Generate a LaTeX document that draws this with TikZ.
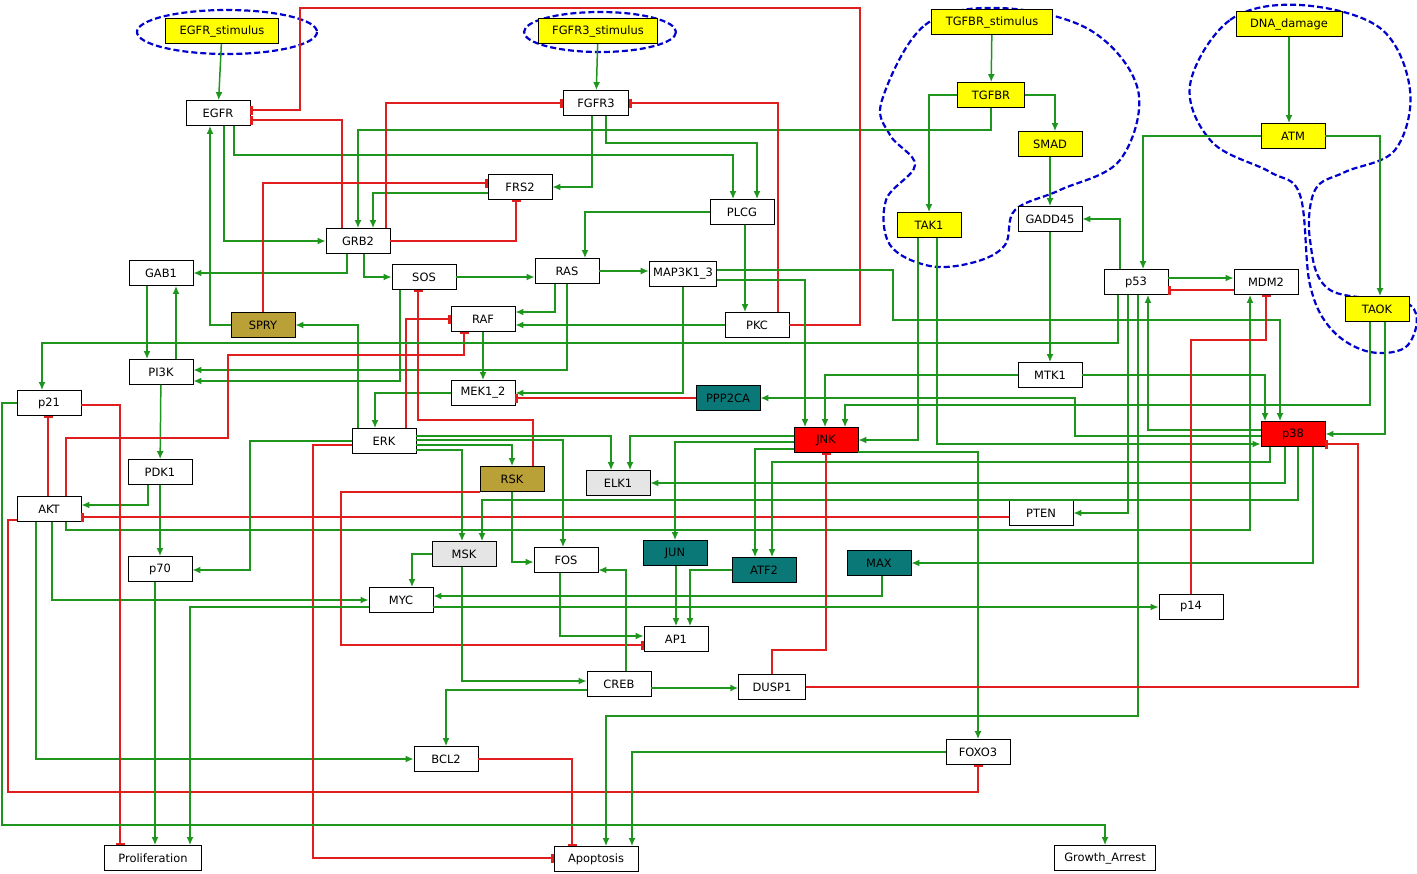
\documentclass[tikz,border=0pt]{standalone}
\usepackage{fontspec}
\setmainfont{DejaVu Sans}
\usetikzlibrary{arrows.meta}
\definecolor{actgreen}{RGB}{30,150,30}
\definecolor{inhred}{RGB}{225,30,30}
\definecolor{olivebox}{RGB}{185,160,55}
\definecolor{tealbox}{RGB}{10,120,118}
\definecolor{stim}{RGB}{255,255,0}
\tikzset{
  box/.style={draw, thick, fill=white, minimum width=64bp, minimum height=25bp, inner xsep=14bp, font=\fontsize{11.5}{13}\selectfont},
  ybox/.style={box, fill=stim},
  obox/.style={box, fill=olivebox},
  tbox/.style={box, fill=tealbox},
  rbox/.style={box, fill=red},
  gbox/.style={box, fill=gray!20},
  act/.style={draw=actgreen, line width=1.5pt, -{Latex[length=8bp,width=7bp]}},
  inh/.style={draw=inhred, line width=1.5pt, -{Bar[width=9bp,line width=2.5pt]}},
  blob/.style={draw=blue!80!black, line width=2.2pt, dash pattern=on 6bp off 3bp}
}
\begin{document}
\begin{tikzpicture}[x=1bp, y=-1bp]
    \useasboundingbox (0,0) rectangle (1417,873);

    % dashed groups
    \draw[blob] (227,32) ellipse (90 and 22);
    \draw[blob] (600,32) ellipse (76 and 20);
    \draw[blob] plot[smooth cycle, tension=0.6] coordinates {(882,100) (925,25) (1000,8) (1090,30) (1138,90) (1120,160) (1060,190) (1015,210) (1005,245) (975,262) (930,266) (890,245) (886,200) (915,165) (890,135)};
    \draw[blob] plot[smooth cycle, tension=0.6] coordinates {(1190,85) (1230,20) (1300,5) (1380,28) (1410,90) (1395,150) (1345,172) (1315,190) (1310,240) (1330,290) (1410,305) (1408,345) (1370,352) (1332,330) (1310,285) (1300,195) (1270,172) (1212,142)};

    % nodes
    \node[ybox] (EGFRs) at (222,31) {EGFR\_stimulus};
    \node[ybox] (FGFR3s) at (598,31) {FGFR3\_stimulus};
    \node[ybox] (TGFBRs) at (992,22) {TGFBR\_stimulus};
    \node[ybox] (TGFBR) at (991,95) {TGFBR};
    \node[ybox] (SMAD) at (1050,144) {SMAD};
    \node[ybox] (TAK1) at (929,225) {TAK1};
    \node[ybox] (DNA) at (1289,24) {DNA\_damage};
    \node[ybox] (ATM) at (1293,136) {ATM};
    \node[ybox] (TAOK) at (1377,309) {TAOK};
    \node[box] (EGFR) at (218,113) {EGFR};
    \node[box] (FGFR3) at (596,103) {FGFR3};
    \node[box] (FRS2) at (520,187) {FRS2};
    \node[box] (PLCG) at (742,212) {PLCG};
    \node[box] (GRB2) at (358,241) {GRB2};
    \node[box] (GAB1) at (161,273) {GAB1};
    \node[box] (SOS) at (424,277) {SOS};
    \node[box] (RAS) at (567,271) {RAS};
    \node[box, inner xsep=4bp] (MAP3K) at (683,274) {MAP3K1\_3};
    \node[obox] (SPRY) at (263,325) {SPRY};
    \node[box] (RAF) at (483,319) {RAF};
    \node[box] (PKC) at (757,325) {PKC};
    \node[box] (PI3K) at (161,372) {PI3K};
    \node[box] (p21) at (49,403) {p21};
    \node[box, inner xsep=6bp] (MEK) at (483,393) {MEK1\_2};
    \node[tbox, inner xsep=6bp] (PPP2CA) at (728,398) {PPP2CA};
    \node[box] (ERK) at (384,441) {ERK};
    \node[rbox] (JNK) at (826,440) {JNK};
    \node[obox] (RSK) at (512,479) {RSK};
    \node[gbox] (ELK1) at (618,483) {ELK1};
    \node[box] (PDK1) at (160,472) {PDK1};
    \node[box] (AKT) at (49,509) {AKT};
    \node[box] (PTEN) at (1041,513) {PTEN};
    \node[gbox] (MSK) at (464,554) {MSK};
    \node[box] (FOS) at (566,560) {FOS};
    \node[tbox] (JUN) at (675,553) {JUN};
    \node[tbox] (ATF2) at (764,570) {ATF2};
    \node[tbox] (MAX) at (879,563) {MAX};
    \node[box] (p70) at (160,569) {p70};
    \node[box] (MYC) at (401,600) {MYC};
    \node[box] (p14) at (1191,607) {p14};
    \node[box] (AP1) at (676,639) {AP1};
    \node[box] (CREB) at (619,684) {CREB};
    \node[box] (DUSP1) at (772,687) {DUSP1};
    \node[box] (BCL2) at (446,759) {BCL2};
    \node[box, inner xsep=6bp] (FOXO3) at (978,752) {FOXO3};
    \node[box] (Prolif) at (153,858) {Proliferation};
    \node[box] (Apoptosis) at (596,859) {Apoptosis};
    \node[box, inner xsep=10bp] (Growth) at (1105,858) {Growth\_Arrest};
    \node[box] (p53) at (1136,282) {p53};
    \node[box] (MDM2) at (1266,282) {MDM2};
    \node[box] (MTK1) at (1050,375) {MTK1};
    \node[box, inner xsep=6bp] (GADD45) at (1050,219) {GADD45};
    \node[rbox] (p38) at (1293,434) {p38};

    % receptors
    \draw[act] (EGFRs) -- (EGFR);
    \draw[act] (FGFR3s) -- (FGFR3);
    \draw[act] (TGFBRs) -- (TGFBR);
    \draw[act] (TGFBR.east) -| (SMAD.north -| 1055,0);
    \draw[act] (TGFBR.west) -| (TAK1.north -| 929,0);
    \draw[act] (TGFBR.south) |- (358,130) -- (GRB2.north -| 358,0);
    \draw[act] (SMAD) -- (GADD45);
    \draw[act] (DNA) -- (ATM.north -| DNA.south);
    \draw[act] (ATM.west) -| (p53.north -| 1143,0);
    \draw[act] (ATM.east) -| (TAOK.north -| 1380,0);
    \draw[act] (EGFR.south -| 224,0) |- (GRB2.west);
    \draw[act] (EGFR.south -| 234,0) |- (733,155) -- (PLCG.north -| 733,0);
    \draw[act] (FGFR3.south -| 592,0) |- (FRS2.east);
    \draw[act] (FGFR3.south -| 606,0) |- (757,143) -- (PLCG.north -| 757,0);
    \draw[act] (FRS2.west |- 0,193) -| (GRB2.north -| 373,0);
    \draw[inh] (GRB2.east) -| (FRS2.south -| 516,0);
    \draw[inh] (GRB2.north -| 386,0) |- (FGFR3.west);
    \draw[inh] (GRB2.north -| 342,0) |- (EGFR.east |- 0,120);
    \draw[inh] (PKC.north -| 778,0) |- (FGFR3.east);
    \draw[inh] (PKC.east) -| (860,8) -| (300,110) -- (EGFR.east |- 0,110);

    % MAPK cascade
    \draw[act] (GRB2.south -| 347,0) |- (GAB1.east);
    \draw[act] (GRB2.south -| 364,0) |- (SOS.west);
    \draw[act] (SOS.east) -- (RAS.west |- SOS.east);
    \draw[act] (PLCG.west) -| (RAS.north -| 585,0);
    \draw[act] (PLCG.south -| 745,0) -- (PKC.north -| 745,0);
    \draw[act] (RAS.south -| 555,0) |- (RAF.east |- 0,312);
    \draw[act] (RAS.east) -- (MAP3K.west |- RAS.east);
    \draw[act] (RAS.south -| 567,0) |- (PI3K.east |- 0,370);
    \draw[act] (SOS.south -| 400,0) |- (PI3K.east |- 0,381);
    \draw[act] (RAF) -- (MEK);
    \draw[act] (MAP3K.south -| 683,0) |- (MEK.east);
    \draw[act] (MAP3K.east |- 0,280) -| (JNK.north -| 805,0);
    \draw[act] (MAP3K.east |- 0,270) -| (893,320) -| (p38.north -| 1280,0);
    \draw[act] (PKC.west) -- (RAF.east |- PKC.west);
    \draw[act] (MEK.west) -| (ERK.north -| 375,0);
    \draw[act] (ERK.north -| 358,0) |- (SPRY.east);
    \draw[inh] (SPRY.north) |- (FRS2.west |- 0,183);
    \draw[act] (SPRY.west) -| (EGFR.south -| 210,0);
    \draw[inh] (ERK.north -| 406,0) |- (RAF.west);
    \draw[inh] (RSK.north -| 533,0) |- (418,420) -- (SOS.south -| 418,0);
    \draw[inh] (PPP2CA.west) -- (MEK.east |- PPP2CA.west);

    % PI3K / AKT
    \draw[act] (PI3K.north -| 176,0) -- (GAB1.south -| 176,0);
    \draw[act] (GAB1.south -| 147,0) -- (PI3K.north -| 147,0);
    \draw[act] (PI3K) -- (PDK1);
    \draw[act] (PDK1.south -| 148,0) |- (AKT.east |- 0,505);
    \draw[act] (PDK1) -- (p70);
    \draw[inh] (PTEN.west |- 0,517) -- (AKT.east |- 0,517);
    \draw[act] (AKT.south -| 52,0) |- (MYC.west);
    \draw[act] (AKT.south -| 36,0) |- (BCL2.west);
    \draw[inh] (AKT.north -| 48,0) -- (p21.south -| 48,0);
    \draw[inh] (AKT.west |- 0,520) -| (8,792) -| (FOXO3.south);
    \draw[inh] (AKT.north -| 66,0) |- (228,438) |- (464,355) -- (RAF.south -| 464,0);
    \draw[act] (AKT.south -| 66,0) |- (1250,530) -- (MDM2.south -| 1250,0);

    % ERK targets
    \draw[act] (ERK.west) -| (250,570) -- (p70.east |- 0,570);
    \draw[act] (ERK.east |- 0,445) -| (RSK.north);
    \draw[act] (ERK.east |- 0,450) -| (MSK.north -| 462,0);
    \draw[act] (ERK.east |- 0,440) -| (FOS.north -| 563,0);
    \draw[act] (ERK.east |- 0,436) -| (ELK1.north -| 611,0);
    \draw[inh] (ERK.west |- 0,445) -| (313,858) -- (Apoptosis.west |- 0,858);
    \draw[inh] (RSK.west |- 0,492) -| (341,645) -- (AP1.west |- 0,645);
    \draw[act] (RSK.south) |- (FOS.west |- 0,562);

    % JNK / p38
    \draw[act] (JNK.west |- 0,436) -| (ELK1.north -| 630,0);
    \draw[act] (JNK.west |- 0,442) -| (JUN.north);
    \draw[act] (JNK.west |- 0,449) -| (ATF2.north -| 755,0);
    \draw[act] (p38.south -| 1270,0) |- (772,462) -- (ATF2.north -| 772,0);
    \draw[act] (JNK.east |- 0,452) -| (FOXO3.north);
    \draw[act] (TAK1.south -| 918,0) |- (JNK.east |- 0,440);
    \draw[act] (TAK1.south -| 937,0) |- (p38.west |- 0,444);
    \draw[act] (MTK1.west) -| (JNK.north -| 825,0);
    \draw[act] (MTK1.east) -| (p38.north -| 1265,0);
    \draw[act] (GADD45) -- (MTK1);
    \draw[act] (TAOK.south -| 1385,0) |- (p38.east);
    \draw[act] (TAOK.south -| 1370,0) |- (845,405) -- (JNK.north -| 845,0);
    \draw[act] (p38.west |- 0,436) -| (1075,398) -- (PPP2CA.east |- 0,398);
    \draw[act] (p38.south -| 1285,0) |- (ELK1.east);
    \draw[act] (p38.south -| 1298,0) |- (482,500) -- (MSK.north -| 482,0);
    \draw[act] (p38.south -| 1313,0) |- (MAX.east);

    % p53
    \draw[act] (p53.north -| 1120,0) |- (GADD45.east);
    \draw[act] (p53.east |- 0,278) -- (MDM2.west |- 0,278);
    \draw[inh] (MDM2.west |- 0,290) -- (p53.east |- 0,290);
    \draw[act] (p53.south -| 1118,0) |- (42,343) -- (p21.north -| 42,0);
    \draw[act] (p53.south -| 1128,0) |- (PTEN.east);
    \draw[act] (p53.south -| 1138,0) |- (606,716) -- (Apoptosis.north -| 606,0);
    \draw[act] (p38.west |- 0,430) -| (p53.south -| 1148,0);
    \draw[inh] (p14.north) |- (1266,340) -- (MDM2.south -| 1266,0);

    % transcription and outputs
    \draw[act] (MAX.south -| 882,0) |- (MYC.east |- 0,596);
    \draw[act] (MSK.west) -| (MYC.north -| 412,0);
    \draw[act] (MSK.south -| 462,0) |- (CREB.west |- 0,681);
    \draw[act] (FOS.south -| 560,0) |- (AP1.west |- 0,636);
    \draw[act] (JUN.south -| 676,0) -- (AP1.north -| 676,0);
    \draw[act] (ATF2.west) -| (AP1.north -| 690,0);
    \draw[act] (CREB.north -| 626,0) |- (FOS.east |- 0,570);
    \draw[act] (CREB.east |- 0,688) -- (DUSP1.west |- 0,688);
    \draw[act] (CREB.west |- 0,690) -| (BCL2.north);
    \draw[inh] (DUSP1.north) |- (826,650) -- (JNK.south);
    \draw[inh] (DUSP1.east) -| (1358,444) -- (p38.east |- 0,444);
    \draw[inh] (BCL2.east) -| (Apoptosis.north -| 572,0);
    \draw[act] (FOXO3.west) -| (Apoptosis.north -| 632,0);
    \draw[inh] (p21.east |- 0,405) -| (Prolif.north -| 120,0);
    \draw[act] (p21.west) -| (2,825) -| (Growth.north);
    \draw[act] (p70.south -| 155,0) -- (Prolif.north -| 155,0);
    \draw[act] (MYC.west |- 0,607) -| (Prolif.north -| 190,0);
    \draw[act] (MYC.east |- 0,607) -- (p14.west |- 0,607);
\end{tikzpicture}
\end{document}
